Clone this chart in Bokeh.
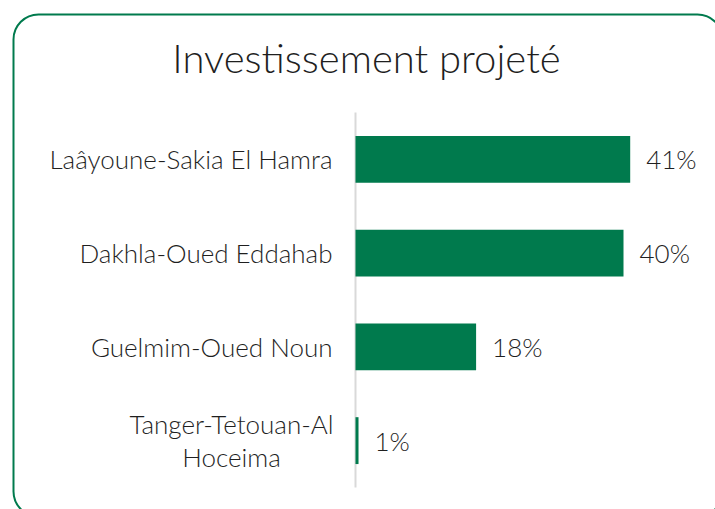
from bokeh.plotting import figure
from bokeh.models import Range1d, BoxAnnotation, ColumnDataSource
from bokeh.embed import file_html
from bokeh.resources import INLINE
from bokeh.core.properties import value

title_text = "Investissement projeté"
regions = ["Laâyoune-Sakia El Hamra", "Dakhla-Oued Eddahab", "Guelmim-Oued Noun",
           "Tanger-Tetouan-Al\nHoceima"]
shares = [41.0, 40.0, 18.0, 0.45]
share_labels = ["41%", "40%", "18%", "1%"]

GREEN = "#007a4d"
TEXT = "#1f1f1f"
FONT = "Lato Light"

W, H = 715, 509
AXIS_PX = 355          # pixel position of the value axis (0 %)
PX_PER_UNIT = 6.7      # pixels per percentage point
SLOT_PX = 93.75        # pixels per category slot
AXIS_BOTTOM_PX = 487   # pixel y of the bottom of the category band

def px_x(px):
    return (px - AXIS_PX) / PX_PER_UNIT

def px_y(py):
    return (AXIS_BOTTOM_PX - py) / SLOT_PX

n = len(regions)
ypos = [n - i - 0.5 for i in range(n)]
single = ["\n" not in r for r in regions]

src_bars = ColumnDataSource(dict(y=ypos, share=shares, label=share_labels))
src_single = ColumnDataSource(dict(
    y=[y for y, s in zip(ypos, single) if s],
    region=[r for r, s in zip(regions, single) if s]))
src_multi = ColumnDataSource(dict(
    y=[y for y, s in zip(ypos, single) if not s],
    region=[r for r, s in zip(regions, single) if not s]))

p = figure(width=W, height=H, output_backend="svg", toolbar_location=None,
           x_range=Range1d(px_x(0), px_x(W)), y_range=Range1d(px_y(H), px_y(0)),
           min_border=0, min_border_left=0, min_border_right=0,
           min_border_top=0, min_border_bottom=0)
p.outline_line_color = None
p.grid.visible = False
p.axis.visible = False

# value axis line
p.segment(x0=[0], x1=[0], y0=[0], y1=[n], line_color="#d9d9d9", line_width=2)

p.hbar(y="y", right="share", left=0, height=0.5, source=src_bars,
       fill_color=GREEN, line_color=None)
p.text(x="share", y="y", text="label", source=src_bars, x_offset=16,
       text_baseline="middle", text_align="left", text_font=value(FONT),
       text_font_size="26px", text_color=TEXT)

p.text(x=0, y="y", text="region", source=src_single, x_offset=-23,
       text_baseline="middle", text_align="right", text_font=value(FONT),
       text_font_size="26px", text_color=TEXT)
p.text(x=0, y="y", text="region", source=src_multi, x_offset=-124,
       text_baseline="middle", text_align="center", text_font=value(FONT),
       text_font_size="26px", text_color=TEXT, text_line_height=1.05)

p.text(x=[px_x(366)], y=[px_y(33)], text=[title_text], text_baseline="top",
       text_align="center", text_font=value(FONT), text_font_size="40px",
       text_color=TEXT)

p.add_layout(BoxAnnotation(left=px_x(13), right=px_x(722), top=px_y(14),
                           bottom=px_y(516), fill_alpha=0, line_color=GREEN,
                           line_alpha=1.0, line_width=2, border_radius=25))

open("out.html", "w").write(file_html(p, INLINE))
